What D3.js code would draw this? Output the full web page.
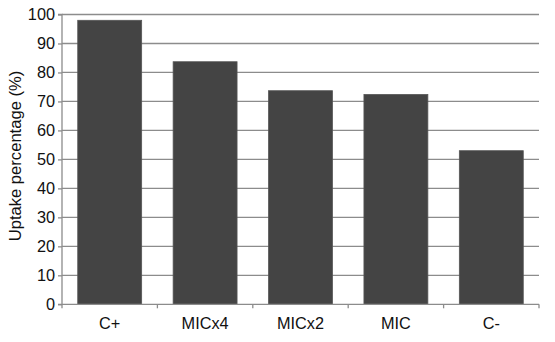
<!DOCTYPE html>
<html><head><meta charset="utf-8">
<script src="https://cdn.jsdelivr.net/npm/d3@7"></script>
<style>body{margin:0;background:#fff}svg{display:block}text{font-family:"Liberation Sans",Arial,sans-serif;fill:#111}</style>
</head><body><svg id="c" width="555" height="342"></svg>
<script>
const categories = ["C+","MICx4","MICx2","MIC","C-"];
const values = [98, 83.7, 73.7, 72.4, 53];
const yTicks = [0,10,20,30,40,50,60,70,80,90,100];
const yLabel = "Uptake percentage (%)";

const svg = d3.select("#c");
const m = {l:62, r:539, t:14.5, b:304.3};
const x = d3.scaleBand().domain(categories).range([m.l, m.r]).paddingInner(0.33).paddingOuter(0.165);
const xb = d3.scaleBand().domain(categories).range([m.l, m.r]);
const y = d3.scaleLinear().domain([0,100]).range([m.b, m.t]);
const FONT = "'Liberation Sans', Arial, sans-serif";

// grid
svg.append("g").selectAll("line").data(yTicks.filter(d=>d>0)).join("line")
  .attr("x1", m.l).attr("x2", m.r).attr("y1", d=>y(d)).attr("y2", d=>y(d))
  .attr("stroke", "#8c8c8c").attr("stroke-width", 1.3);

// bars
svg.append("g").selectAll("rect").data(values).join("rect")
  .attr("x", (d,i)=>x(categories[i])).attr("width", x.bandwidth())
  .attr("y", d=>y(d)).attr("height", d=>m.b - y(d))
  .attr("fill", "#444").attr("stroke", "#555").attr("stroke-width", 0.8);

// y axis
const ya = svg.append("g").attr("transform", `translate(${m.l},0)`)
  .call(d3.axisLeft(y).tickValues(yTicks).tickSize(4).tickPadding(3));
ya.select(".domain").attr("stroke", "#8c8c8c").attr("stroke-width", 1.3).attr("d", `M-4,${m.b}H0V${m.t}H-4`);
ya.selectAll(".tick line").attr("stroke", "#8c8c8c").attr("stroke-width", 1.3);
ya.selectAll(".tick text").style("font-size", "16.3px").style("font-family", FONT).attr("fill", "#111");

// x axis
const xa = svg.append("g").attr("transform", `translate(0,${m.b})`)
  .call(d3.axisBottom(xb).tickSize(0).tickPadding(13));
xa.select(".domain").attr("stroke", "#8c8c8c").attr("stroke-width", 1.3).attr("d", `M${m.l},0H${m.r}`);
xa.selectAll(".tick text").style("font-size", "16.3px").style("font-family", FONT).attr("fill", "#111");
// category boundary ticks
const bounds = categories.map(c=>xb(c)).concat([m.r]);
svg.append("g").selectAll("line").data(bounds).join("line")
  .attr("x1", d=>d).attr("x2", d=>d).attr("y1", m.b).attr("y2", m.b+4)
  .attr("stroke", "#8c8c8c").attr("stroke-width", 1.3);

// y label
svg.append("text").attr("transform", `translate(21,156) rotate(-90)`)
  .attr("text-anchor", "middle").style("font-size", "16.6px").text(yLabel);
</script></body></html>
